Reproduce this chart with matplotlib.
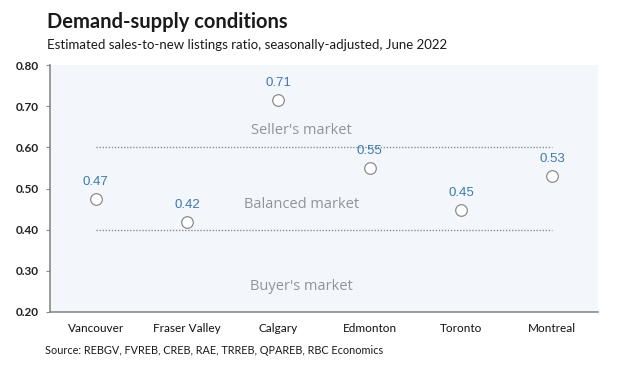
import matplotlib
matplotlib.use('Agg')
import matplotlib.pyplot as plt

cities = ['Vancouver', 'Fraser Valley', 'Calgary', 'Edmonton', 'Toronto', 'Montreal']
ratios = [0.474, 0.418, 0.714, 0.550, 0.448, 0.531]
value_labels = ['0.47', '0.42', '0.71', '0.55', '0.45', '0.53']
thresholds = [0.40, 0.60]
zones = ["Seller's market", 'Balanced market', "Buyer's market"]
zone_y = [0.642, 0.462, 0.262]
y_ticks = [0.20, 0.30, 0.40, 0.50, 0.60, 0.70, 0.80]

plt.rcParams['font.family'] = ['Lato', 'DejaVu Sans']
fig = plt.figure(figsize=(6.21, 3.76), dpi=100)
ax = fig.add_axes([50 / 621, 1 - 312 / 376, 548 / 621, 247 / 376])
ax.set_facecolor('#f3f7fc')

x = list(range(len(cities)))
for t in thresholds:
    ax.plot([x[0], x[-1]], [t, t], color='#8a8f96', linestyle=(0, (1, 1.2)), linewidth=1)

ax.scatter(x, ratios, s=70, facecolors='white', edgecolors='#8c8c8c', linewidths=0.9, zorder=3)
for xi, yi, lab in zip(x, ratios, value_labels):
    ax.annotate(lab, (xi, yi), xytext=(0, 8), textcoords='offset points',
                ha='center', va='bottom', color='#3f78b0', fontsize=9.5,
                family='Liberation Sans')

for z, zy in zip(zones, zone_y):
    ax.text(2.25, zy, z, ha='center', va='center', color='#8e949b', fontsize=10.5,
            family='Open Sans')

ax.set_xlim(-0.5, 5.5)
ax.set_ylim(0.2, 0.8)
ax.set_yticks(y_ticks)
ax.set_yticklabels(['%.2f' % v for v in y_ticks], fontsize=8.5, fontweight='bold', color='#222222')
ax.set_xticks(x)
ax.set_xticklabels(cities, fontsize=8.5, color='#111111')
ax.tick_params(axis='x', length=0, pad=8)
ax.tick_params(axis='y', length=3, color='#888888', pad=5)
for s in ['top', 'right']:
    ax.spines[s].set_visible(False)
for s in ['left', 'bottom']:
    ax.spines[s].set_color('#8a8a8a')
    ax.spines[s].set_linewidth(1.2)

fig.text(47 / 621, 1 - 22 / 376, 'Demand-supply conditions', fontsize=14.5, fontweight='bold',
         va='center', ha='left', color='#1a1a1a')
fig.text(47 / 621, 1 - 45 / 376, 'Estimated sales-to-new listings ratio, seasonally-adjusted, June 2022',
         fontsize=9.5, va='center', ha='left', color='#1a1a1a')
fig.text(45 / 621, 1 - 351 / 376, 'Source: REBGV, FVREB, CREB, RAE, TRREB, QPAREB, RBC Economics',
         fontsize=7.8, va='center', ha='left', color='#1a1a1a')

fig.savefig('out.png', dpi=100)
